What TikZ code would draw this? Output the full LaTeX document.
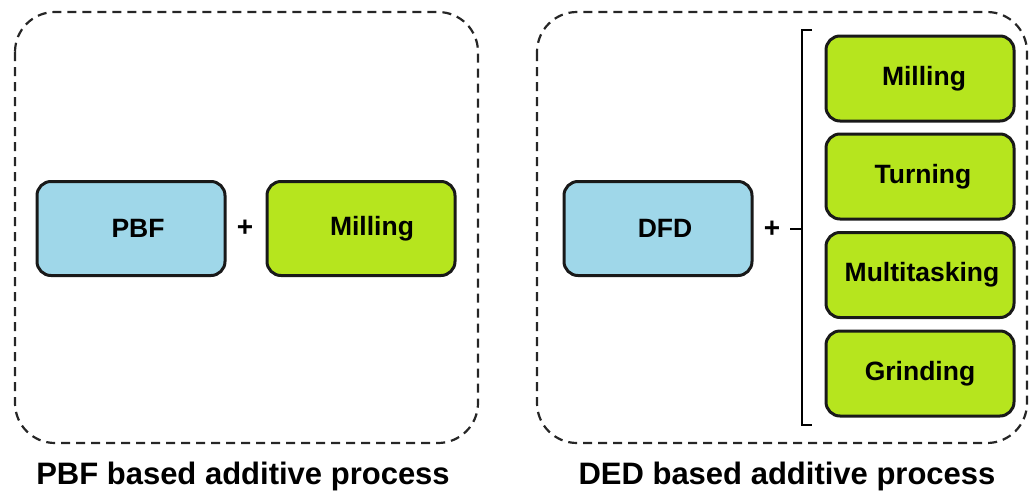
\documentclass[tikz,border=0pt]{standalone}
\usepackage{fontspec}
\setmainfont{Liberation Sans}
\begin{document}
\begin{tikzpicture}[x=1pt,y=-1pt,
  group/.style={draw=black!85, line width=2.2pt, dash pattern=on 9pt off 6pt, rounded corners=40pt},
  box/.style={draw=black!90, line width=3pt, rounded corners=14pt, minimum width=188pt, minimum height=94pt, inner sep=0pt, font=\fontsize{26.5}{30}\selectfont\bfseries},
  bluebox/.style={box, fill=procblue},
  greenbox/.style={box, fill=procgreen, minimum height=85pt},
  plus/.style={font=\fontsize{28}{30}\selectfont\bfseries, inner sep=0pt},
  caption/.style={font=\fontsize{31}{34}\selectfont\bfseries, inner sep=0pt}]
\definecolor{procblue}{HTML}{9FD7E9}
\definecolor{procgreen}{HTML}{B6E51E}
\useasboundingbox (0,0) rectangle (1029,493);
% groups
\draw[group] (15,12) rectangle (478,443);
\draw[group] (537,12) rectangle (1027,443);
% left
\node[bluebox] (pbf) at (131,228.5) {\hspace*{14pt}PBF};
\node[plus] (plus1) at (245,228) {+};
\node[greenbox, minimum height=94pt] (mill1) at (361,228.5) {\hspace*{22pt}Milling};
\node[caption] (cap1) at (243,476) {PBF based additive process};
% right
\node[bluebox] (dfd) at (658,228.5) {\hspace*{14pt}DFD};
\node[plus] (plus2) at (772,229) {+};
\node[greenbox] (m2) at (920,78.5) {\hspace*{8pt}Milling};
\node[greenbox] (t2) at (920,176.5) {\hspace*{6pt}Turning};
\node[greenbox] (mt2) at (920,275) {\hspace*{4pt}Multitasking};
\node[greenbox] (g2) at (920,373.5) {Grinding};
\node[caption] (cap2) at (787,476) {DED based additive process};
% bracket
\coordinate (btop) at (812,30);
\coordinate (bbot) at (812,425);
\coordinate (bmid) at (802,229);
\coordinate (dashstart) at (790,229);
\draw[line width=2.2pt] (btop) -- (802,30) -- (802,425) -- (bbot);
\draw[line width=2.2pt] (dashstart) -- (bmid);
\end{tikzpicture}
\end{document}
